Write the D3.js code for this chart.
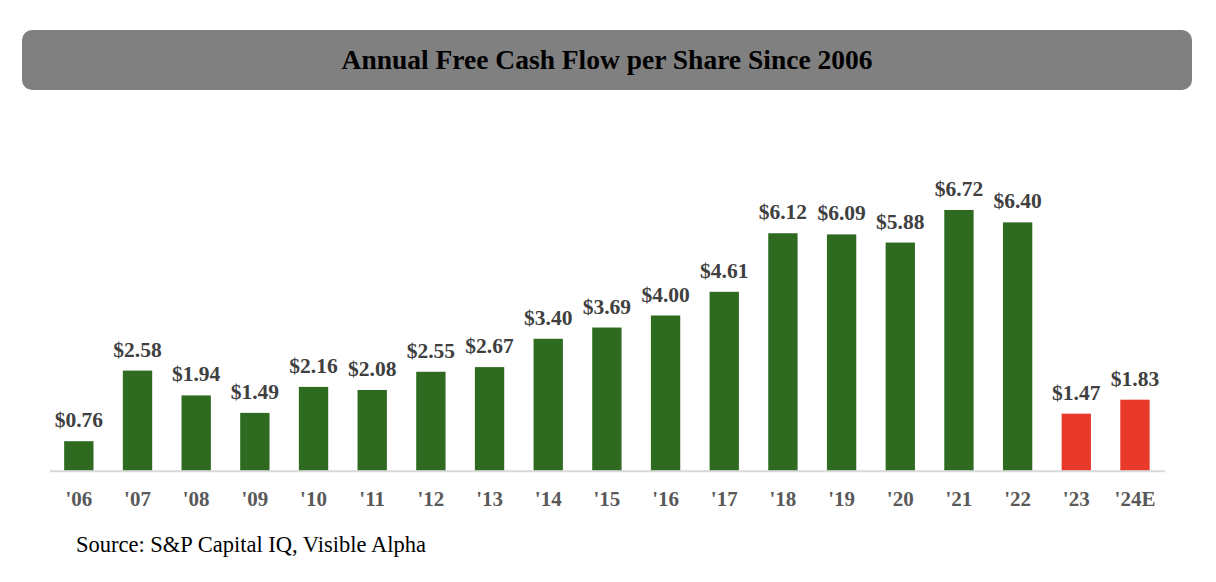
<!DOCTYPE html>
<html>
<head>
<meta charset="utf-8">
<script src="https://cdn.jsdelivr.net/npm/d3@7"></script>
<style>
  body { margin: 0; background: #fff; }
  svg { display: block; }
</style>
</head>
<body>
<div id="chart"></div>
<script>
// data
const years = ["'06", "'07", "'08", "'09", "'10", "'11", "'12", "'13", "'14", "'15",
  "'16", "'17", "'18", "'19", "'20", "'21", "'22", "'23", "'24E"];
const fcfPerShare = [0.76, 2.58, 1.94, 1.49, 2.16, 2.08, 2.55, 2.67, 3.40, 3.69,
  4.00, 4.61, 6.12, 6.09, 5.88, 6.72, 6.40, 1.47, 1.83];
const redYears = ["'23", "'24E"];

var width = 1216, height = 582;
var serif = "'Liberation Serif', 'Times New Roman', serif";

var svg = d3.select('#chart')
  .append('svg')
  .attr('width', width)
  .attr('height', height);

// title bar
svg.append('rect')
  .attr('x', 22).attr('y', 30)
  .attr('width', 1170).attr('height', 60)
  .attr('rx', 10)
  .attr('fill', '#808080');

svg.append('text')
  .attr('x', 607).attr('y', 69)
  .attr('text-anchor', 'middle')
  .attr('font-family', serif)
  .attr('font-weight', 'bold')
  .attr('font-size', 27.5)
  .attr('fill', '#000')
  .text('Annual Free Cash Flow per Share Since 2006');

var baseline = 470.7;

var x = d3.scaleBand()
  .domain(years)
  .range([49.5, 1164.3])
  .paddingInner(0.5)
  .paddingOuter(0.25);

var y = d3.scaleLinear()
  .domain([0, 7.5])
  .range([baseline, baseline - 7.5 * 38.8]);

var data = years.map(function(d, i) {
  return { year: d, value: fcfPerShare[i] };
});

svg.selectAll('.bar')
  .data(data)
  .enter()
  .append('rect')
  .attr('class', 'bar')
  .attr('x', function(d) { return x(d.year); })
  .attr('y', function(d) { return y(d.value); })
  .attr('width', x.bandwidth())
  .attr('height', function(d) { return y(0) - y(d.value); })
  .attr('fill', function(d) {
    return redYears.indexOf(d.year) >= 0 ? '#e8392a' : '#2e6a1f';
  });

// value labels
svg.selectAll('.val')
  .data(data)
  .enter()
  .append('text')
  .attr('class', 'val')
  .attr('x', function(d) { return x(d.year) + x.bandwidth() / 2; })
  .attr('y', function(d) { return y(d.value) - 14; })
  .attr('text-anchor', 'middle')
  .attr('font-family', serif)
  .attr('font-weight', 'bold')
  .attr('font-size', 21.5)
  .attr('fill', '#404040')
  .text(function(d) { return '$' + d.value.toFixed(2); });

// x axis
var axis = svg.append('g')
  .attr('transform', 'translate(0,' + baseline + ')')
  .call(d3.axisBottom(x).tickSize(0).tickPadding(20.5));

axis.select('.domain')
  .attr('stroke', '#d9d9d9')
  .attr('stroke-width', 2);

axis.selectAll('text')
  .attr('font-family', serif)
  .attr('font-weight', 'bold')
  .attr('font-size', 21)
  .attr('fill', '#595959');

svg.append('text')
  .attr('x', 76).attr('y', 552)
  .attr('font-family', serif)
  .attr('font-size', 22.5)
  .attr('fill', '#000')
  .text('Source: S&P Capital IQ, Visible Alpha');
</script>
</body>
</html>
